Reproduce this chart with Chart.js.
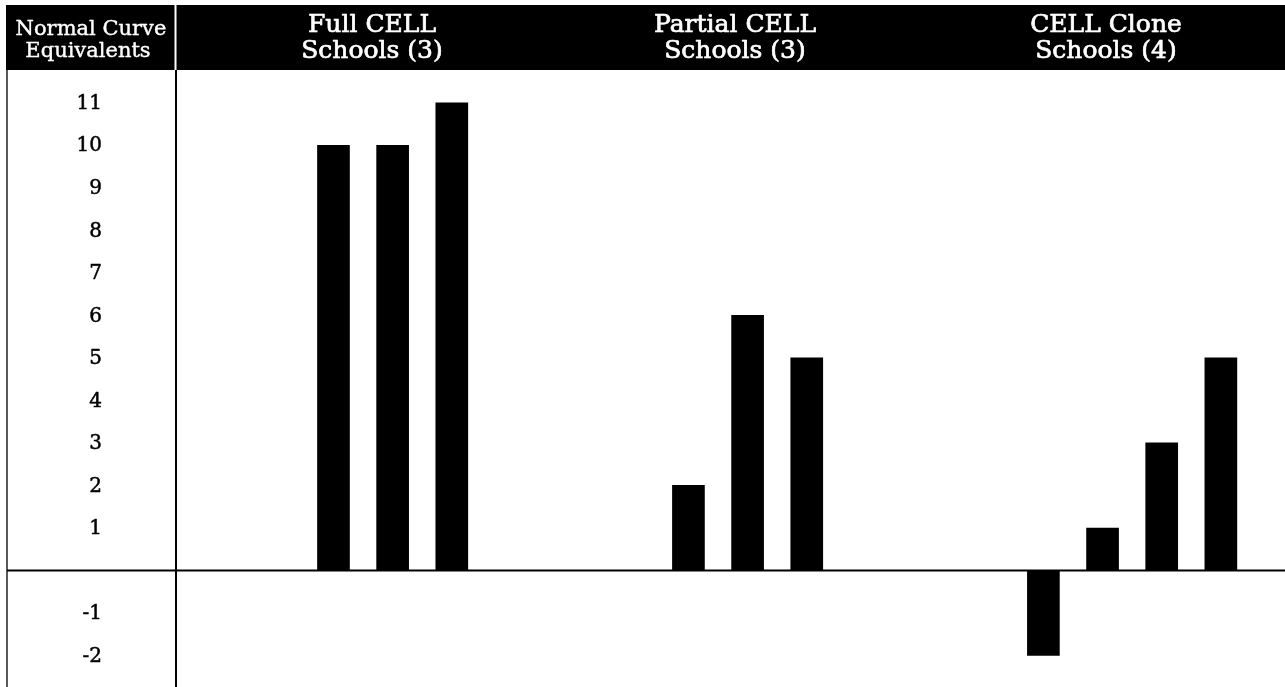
<!DOCTYPE html>
<html>
<head>
<meta charset="utf-8">
<script src="https://cdn.jsdelivr.net/npm/chart.js@4.4.1/dist/chart.umd.min.js"></script>
<style>
  html, body { margin: 0; padding: 0; background: #fff; }
  #wrap { width: 1285px; height: 687px; position: relative; }
</style>
</head>
<body>
<div id="wrap"><canvas id="c" width="1285" height="687"></canvas></div>
<script>
// ---- data ----
const axisTitle = ['Normal Curve', 'Equivalents'];
const groupTitles = [['Full CELL', 'Schools (3)'], ['Partial CELL', 'Schools (3)'], ['CELL Clone', 'Schools (4)']];
const fullCell = [10, 10, 11];
const partialCell = [2, 6, 5];
const cloneCell = [-2, 1, 3, 5];
const tickLabels = [-2, -1, 1, 2, 3, 4, 5, 6, 7, 8, 9, 10, 11];

const groups = [fullCell, partialCell, cloneCell];
const GROUP_STRIDE = 6;
const points = [];
groups.forEach((vals, g) => vals.forEach((v, i) => points.push({ x: g * GROUP_STRIDE + i, y: v })));

const SERIF = '"DejaVu Serif", serif';

function boldText(ctx, txt, x, y, color, w) {
  ctx.fillStyle = color;
  ctx.strokeStyle = color;
  ctx.lineWidth = w;
  ctx.lineJoin = 'round';
  ctx.strokeText(txt, x, y);
  ctx.fillText(txt, x, y);
}

const decor = {
  id: 'decor',
  beforeDraw(chart) {
    const ctx = chart.ctx;
    const ca = chart.chartArea;
    const ys = chart.scales.y;
    ctx.save();
    // header band
    ctx.fillStyle = '#000';
    ctx.fillRect(6, 5, 1285 - 6, 65);
    // white separator in header
    ctx.fillStyle = '#fff';
    ctx.fillRect(ca.left - 1.5, 5, 2, 65);
    // header texts
    ctx.textAlign = 'center';
    ctx.textBaseline = 'alphabetic';
    ctx.font = '21px ' + SERIF;
    boldText(ctx, axisTitle[0], 91, 35, '#fff', 0.4);
    boldText(ctx, axisTitle[1], 88, 57, '#fff', 0.4);
    ctx.font = '25px ' + SERIF;
    const centers = [372, 735, 1106];
    groupTitles.forEach((t, i) => {
      boldText(ctx, t[0], centers[i], 32, '#fff', 0.7);
      boldText(ctx, t[1], centers[i], 58, '#fff', 0.7);
    });
    // y tick labels, placed by the y scale
    ctx.textAlign = 'right';
    ctx.textBaseline = 'middle';
    ctx.font = '20px ' + SERIF;
    tickLabels.forEach(v => {
      boldText(ctx, String(v), 102, ys.getPixelForValue(v) + 1, '#000', 0.5);
    });
    // left outer border
    ctx.strokeStyle = '#222';
    ctx.lineWidth = 1.5;
    ctx.beginPath();
    ctx.moveTo(7, 70);
    ctx.lineTo(7, 687);
    ctx.stroke();
    ctx.restore();
  },
  afterDatasetsDraw(chart) {
    const ctx = chart.ctx;
    const ca = chart.chartArea;
    const y0 = chart.scales.y.getPixelForValue(0);
    ctx.save();
    ctx.strokeStyle = '#000';
    ctx.lineWidth = 2;
    ctx.beginPath();
    ctx.moveTo(7, y0);
    ctx.lineTo(1285, y0);
    ctx.stroke();
    ctx.beginPath();
    ctx.moveTo(ca.left, 70);
    ctx.lineTo(ca.left, 687);
    ctx.stroke();
    ctx.restore();
  }
};

new Chart(document.getElementById('c'), {
  type: 'bar',
  data: {
    datasets: [{
      data: points,
      backgroundColor: '#000',
      borderWidth: 0,
      barThickness: 32
    }]
  },
  options: {
    responsive: false,
    maintainAspectRatio: false,
    animation: false,
    layout: { padding: { top: 70, left: 176, right: 0, bottom: 0 } },
    plugins: { legend: { display: false }, tooltip: { enabled: false } },
    scales: {
      x: {
        type: 'linear',
        display: false,
        min: -2.662,
        max: 16.084,
        offset: false
      },
      y: {
        type: 'linear',
        display: false,
        min: -2.74,
        max: 11.77
      }
    }
  },
  plugins: [decor]
});
</script>
</body>
</html>
